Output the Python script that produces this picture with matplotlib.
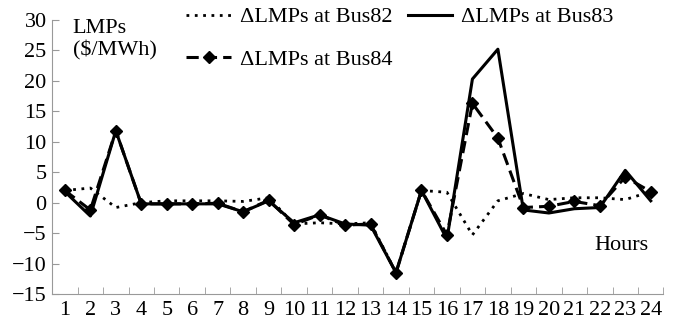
import numpy as np
import matplotlib.pyplot as plt

plt.rcParams['font.family'] = ['Liberation Serif', 'DejaVu Serif']

horas = list(range(1, 25))
bus82 = [2.0, 2.4, -0.8, 0.0, 0.3, 0.3, 0.3, 0.2, 0.8, -3.5, -3.3, -3.5,
         -3.3, -11.5, 2.0, 1.7, -5.3, 0.3, 1.5, 0.5, 0.8, 0.8, 0.5, 1.8]
bus83 = [1.8, -2.2, 11.8, -0.2, -0.2, -0.2, -0.2, -1.5, 0.3, -3.3, -2.0, -3.5,
         -3.7, -11.5, 2.0, -6.0, 20.3, 25.2, -1.2, -1.7, -1.0, -0.8, 5.3, 0.3]
bus84 = [2.0, -1.2, 11.8, -0.2, -0.2, -0.2, -0.1, -1.5, 0.4, -3.6, -2.0, -3.7,
         -3.5, -11.5, 2.0, -5.3, 16.3, 10.6, -0.8, -0.6, 0.2, -0.5, 4.2, 1.8]
yticks = list(range(-15, 31, 5))


def main():
    fig = plt.figure(figsize=(6.77, 3.22), dpi=100)
    ax = fig.add_axes([0.077, 0.087, 0.903, 0.851])

    x = np.arange(len(horas)) + 0.5
    ax.plot(x, bus82, color='black', linestyle=(0, (1, 2)), linewidth=2,
            label='ΔLMPs at Bus82')
    ax.plot(x, bus83, color='black', linestyle='-', linewidth=2.2,
            label='ΔLMPs at Bus83')
    ax.plot(x, bus84, color='black', linestyle=(0, (4, 2)), linewidth=2.2,
            marker='D', markersize=6, label='ΔLMPs at Bus84')

    ax.set_xlim(0, 24)
    ax.set_ylim(-15, 30)
    ax.set_yticks(yticks)
    ax.set_xticks(x)
    ax.set_xticklabels([str(h) for h in horas])
    ax.set_xticks(np.arange(0, 25), minor=True)
    ax.tick_params(axis='x', which='major', length=0, labelsize=16, pad=5)
    ax.tick_params(axis='x', which='minor', direction='in', length=5,
                   color='#999999')
    ax.tick_params(axis='y', direction='in', length=5, color='#999999',
                   labelsize=16, pad=4)

    for lado in ['top', 'right']:
        ax.spines[lado].set_visible(False)
    for lado in ['left', 'bottom']:
        ax.spines[lado].set_color('#999999')

    ax.text(0.8, 30.2, 'LMPs\n($/MWh)', fontsize=16, va='top', ha='left',
            linespacing=1.15)
    ax.text(23.4, -7.0, 'Hours', fontsize=16, va='center', ha='right')

    handles, labels = ax.get_legend_handles_labels()
    orden = [0, 2, 1]
    ax.legend([handles[i] for i in orden], [labels[i] for i in orden],
              ncol=2, frameon=False, fontsize=16, loc='upper left',
              bbox_to_anchor=(0.205, 1.08), handlelength=2.0, handletextpad=0.4,
              columnspacing=0.7, labelspacing=1.0, borderaxespad=0)

    fig.savefig('out.png', dpi=100)


if __name__ == '__main__':
    main()
